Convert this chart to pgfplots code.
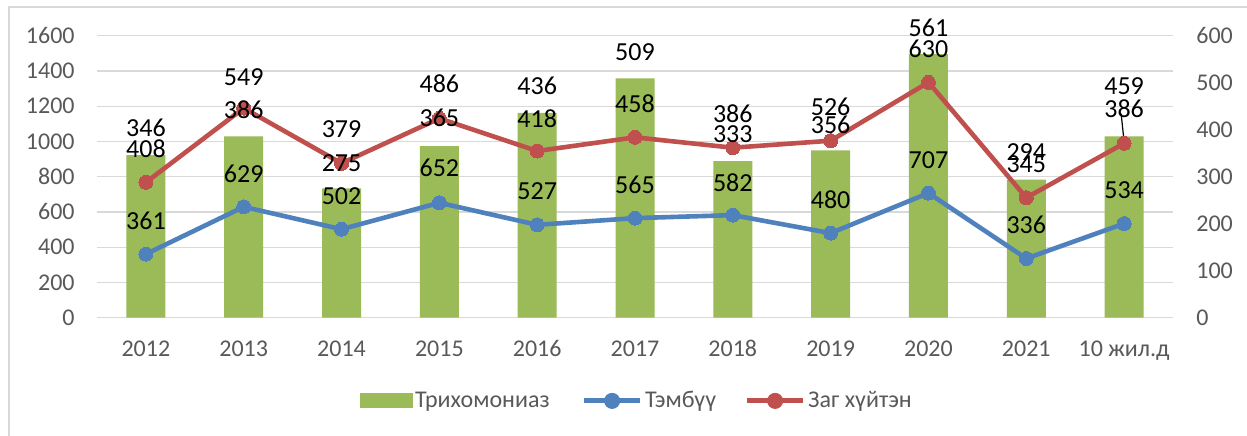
\documentclass[border=0pt]{standalone}
\usepackage{fontspec}
\setmainfont{Carlito}
\usepackage{pgfplots}
\usepackage{pgfplotstable}
\pgfplotsset{compat=1.18}
\definecolor{barg}{HTML}{9BBB59}
\definecolor{blu}{HTML}{4F81BD}
\definecolor{redc}{HTML}{C0504D}
\definecolor{tickc}{HTML}{595959}
\definecolor{gridc}{HTML}{D9D9D9}

% Trichomoniasis (right axis)
\pgfplotstableread{
x y
0 346
1 386
2 275
3 365
4 436
5 509
6 333
7 356
8 561
9 294
10 386
}\bars

% Syphilis (left axis)
\pgfplotstableread{
x y
0 361
1 629
2 502
3 652
4 527
5 565
6 582
7 480
8 707
9 336
10 534
}\blueline

% Gonorrhoea, as drawn (right axis)
\pgfplotstableread{
x y
0 288
1 446
2 328.5
3 424
4 354.7
5 383.8
6 361.7
7 376.6
8 500.8
9 255.3
10 371
}\redline

% data labels: position (right-axis units) and text
\pgfplotstableread{
x y lab
0 404.3 346
0 359.6 408
0 206.4 361
1 512.8 549
1 441.9 386
1 307.2 629
2 401.5 379
2 329.8 275
2 258.9 502
3 497.2 486
3 424.3 365
3 317.9 652
4 493.0 436
4 424.3 418
4 270.2 527
5 564.7 509
5 454.7 458
5 282.3 565
6 433.4 386
6 390.2 333
6 288.1 582
7 447.7 526
7 410.0 356
7 250.4 480
8 615.8 561
8 571.1 630
8 335.5 707
9 353.2 294
9 327.0 345
9 197.2 336
10 493.0 459
10 444.1 386
10 271.7 534
}\labels

\begin{document}
\begin{tikzpicture}
\useasboundingbox (-48.5pt,-58.65pt) rectangle (575pt,158.85pt);
\fill[white] (-48.5pt,-58.65pt) rectangle (575pt,158.85pt);
\draw[gridc, line width=0.7pt] (-44pt,-70pt) -- (-44pt,155.35pt) -- (600pt,155.35pt);

\pgfplotsset{base/.style={scale only axis, width=538pt, height=141pt,
  at={(0pt,0pt)}, anchor=south west, xmin=-0.5, xmax=10.5,
  /pgf/number format/assume math mode=true, /pgf/number format/1000 sep={}},
  legst/.style={legend style={at={(#1,-0.295)}, anchor=west, draw=none, fill=none,
    inner sep=0pt, font=\fontsize{12}{14}\selectfont, text=tickc,
    nodes={inner xsep=1.2pt, inner ysep=0pt}}, legend cell align=left}}

% axis 1: grid, left ticks, x ticks
\begin{axis}[base, ymin=0, ymax=1600, ytick={0,200,...,1600},
  ymajorgrids, grid style={gridc, line width=0.6pt},
  axis line style={draw=none}, major tick length=0pt,
  xtick={0,...,10},
  xticklabels={2012,2013,2014,2015,2016,2017,2018,2019,2020,2021,10 жил.д},
  ticklabel style={font=\fontsize{12}{14}\selectfont, text=tickc},
  xticklabel style={anchor=base, inner sep=0pt, yshift=-19.5pt},
  yticklabel style={anchor=east, inner sep=0pt, xshift=-11pt}]
\addplot[draw=none, forget plot] coordinates {(0,0)};
\end{axis}

% axis 2: bars, right ticks
\begin{axis}[base, ymin=0, ymax=600, ytick={0,100,...,600},
  axis y line*=right, axis x line=none, axis line style={draw=none},
  major tick length=0pt,
  yticklabel style={anchor=west, inner sep=0pt, xshift=11.5pt,
    font=\fontsize{12}{14}\selectfont, text=tickc},
  legst=0.2440]
\addplot[ybar, bar width=19.5pt, fill=barg, draw=none, forget plot] table[x=x,y=y]{\bars};
\addlegendimage{legend image code/.code={\fill[barg] (0pt,-3.5pt) rectangle (26pt,3.5pt);}}
\addlegendentry{Трихомониаз}
\end{axis}

% axis 3: blue line (left scale)
\begin{axis}[base, hide axis, ymin=0, ymax=1600, legst=0.4498]
\addplot[blu, line width=2.3pt, mark=*, mark size=3.5pt,
  mark options={fill=blu, draw=blu, line width=0pt}, forget plot] table[x=x,y=y]{\blueline};
\addlegendimage{legend image code/.code={\draw[blu, line width=2.4pt] (0pt,0pt) -- (28.3pt,0pt); \fill[blu] (14.15pt,0pt) circle (3.8pt);}}
\addlegendentry{Тэмбүү}
\end{axis}

% axis 4: red line, labels (right scale)
\begin{axis}[base, hide axis, ymin=0, ymax=600, clip=false, legst=0.6013]
\addplot[redc, line width=2.3pt, mark=*, mark size=3.5pt,
  mark options={fill=redc, draw=redc, line width=0pt}, forget plot] table[x=x,y=y]{\redline};
\draw[black, line width=0.6pt] (axis cs:9.97,434) -- (axis cs:10,374);
\addplot[draw=none, mark=none, forget plot, nodes near coords,
  point meta=explicit symbolic,
  nodes near coords style={anchor=center, inner sep=0pt,
    font=\fontsize{13}{15}\selectfont, text=black}]
  table[x=x, y=y, meta=lab]{\labels};
\addlegendimage{legend image code/.code={\draw[redc, line width=2.4pt] (0pt,0pt) -- (28.3pt,0pt); \fill[redc] (14.15pt,0pt) circle (3.8pt);}}
\addlegendentry{Заг хүйтэн}
\end{axis}
\end{tikzpicture}
\end{document}
